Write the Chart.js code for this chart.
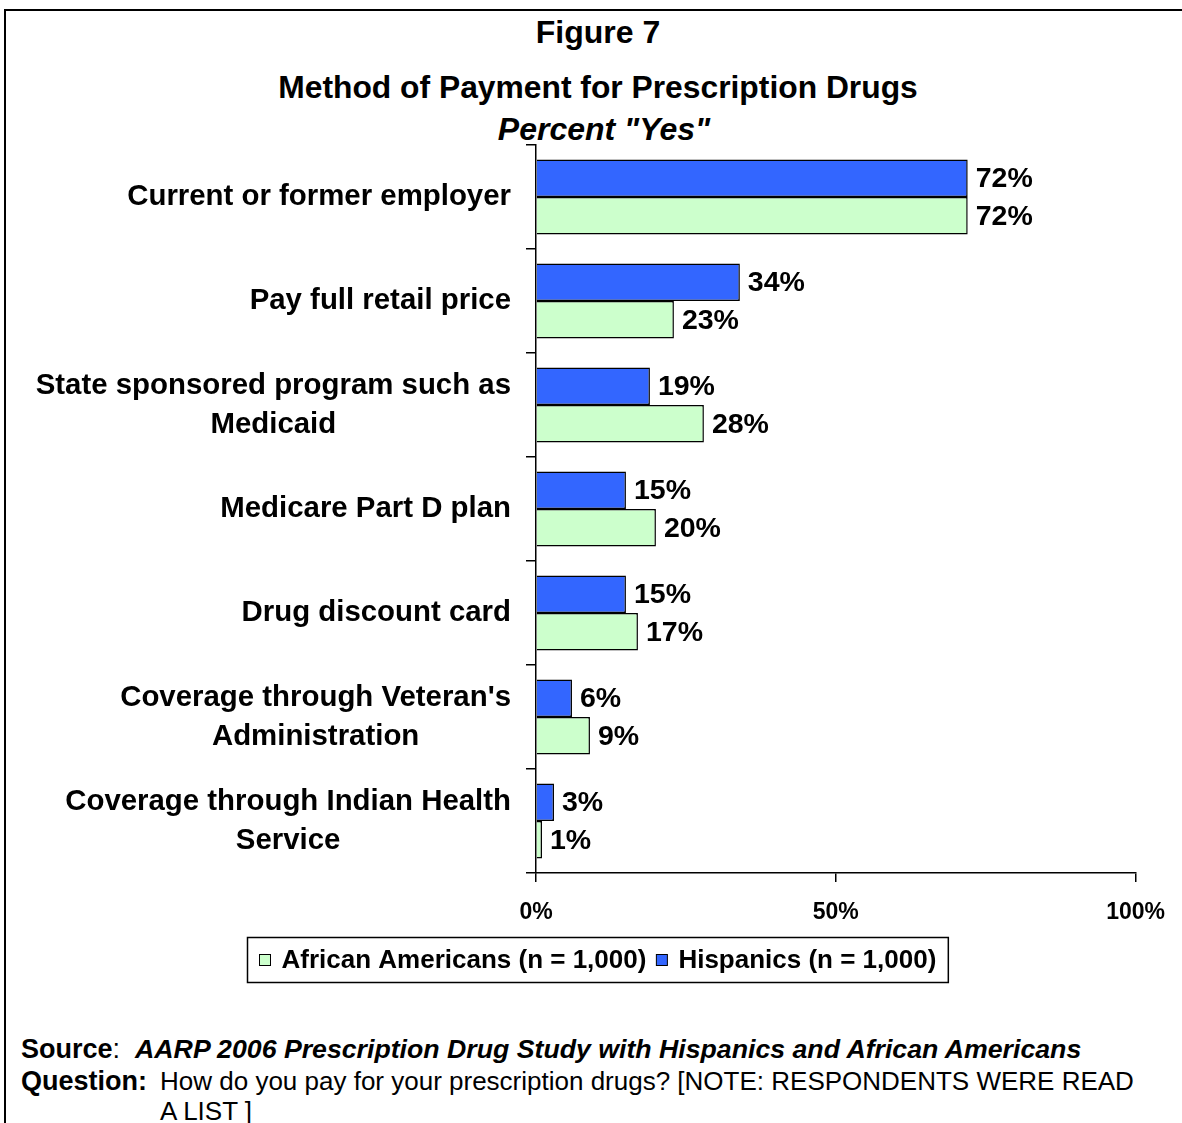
<!DOCTYPE html>
<html>
<head>
<meta charset="utf-8">
<script src="https://cdn.jsdelivr.net/npm/chart.js@4.4.1/dist/chart.umd.min.js"></script>
<style>
  html, body { margin: 0; padding: 0; background: #fff; }
  body { width: 1182px; height: 1123px; position: relative; overflow: hidden; font-family: "Liberation Sans", Arial, sans-serif; color: #000; }
  .marco { position: absolute; left: 4px; top: 9px; width: 1300px; height: 1300px; border-left: 2px solid #000; border-top: 2px solid #000; }
  .tit { position: absolute; left: 0; width: 1196px; text-align: center; font-weight: bold; white-space: nowrap; font-size: 32px; }
  #lienzo { position: absolute; left: 0; top: 0; }
  .nota { position: absolute; white-space: nowrap; line-height: 30px; }
</style>
</head>
<body>
<div class="marco"></div>
<div class="tit" style="top:14px;">Figure 7</div>
<div class="tit" style="top:69px;font-size:31.8px;">Method of Payment for Prescription Drugs</div>
<div class="tit" style="top:111px;font-style:italic;left:6px;">Percent "Yes"</div>
<canvas id="lienzo" width="1182" height="1000"></canvas>
<div class="nota" style="left:21px;top:1034px;font-size:27px;"><b>Source</b>:&nbsp; <b><i style="font-size:26.7px;">AARP 2006 Prescription Drug Study with Hispanics and African Americans</i></b></div>
<div class="nota" style="left:21px;top:1066px;font-size:27px;"><b>Question:</b></div>
<div class="nota" style="left:160px;top:1066px;font-size:26px;">How do you pay for your prescription drugs? [NOTE: RESPONDENTS WERE READ<br>A LIST ]</div>

<script>
const categorias = [
  ['Current or former employer'],
  ['Pay full retail price'],
  ['State sponsored program such as', 'Medicaid'],
  ['Medicare Part D plan'],
  ['Drug discount card'],
  ["Coverage through Veteran's", 'Administration'],
  ['Coverage through Indian Health', 'Service']
];
const hispanos = [72, 34, 19, 15, 15, 6, 3];
const afroamericanos = [72, 23, 28, 20, 17, 9, 1];
const etiquetasSerie = ['Hispanics (n = 1,000)', 'African Americans (n = 1,000)'];
const coloresSerie = ['#3366FF', '#CCFFCC'];
const ticksX = [0, 50, 100];

const FUENTE = '"Liberation Sans", Arial, sans-serif';

// etiquetas de categoría: una línea alineada a la derecha, varias centradas entre sí
const etiquetasCategoria = {
  id: 'etiquetasCategoria',
  afterDraw(chart) {
    const { ctx } = chart;
    const y = chart.scales.y;
    const borde = 511;
    ctx.save();
    ctx.font = 'bold 29.4px ' + FUENTE;
    ctx.fillStyle = '#000';
    ctx.textBaseline = 'middle';
    ctx.textAlign = 'center';
    categorias.forEach((lineas, i) => {
      const cy = y.getPixelForValue(i);
      const anchoMax = Math.max(...lineas.map(l => ctx.measureText(l).width));
      const cx = borde - anchoMax / 2;
      const alto = 39;
      const y0 = cy - (lineas.length - 1) * alto / 2;
      lineas.forEach((l, k) => ctx.fillText(l, cx, y0 + k * alto));
    });
    ctx.restore();
  }
};

// valores al final de cada barra
const valoresBarras = {
  id: 'valoresBarras',
  afterDatasetsDraw(chart) {
    const { ctx } = chart;
    ctx.save();
    ctx.font = 'bold 28.5px ' + FUENTE;
    ctx.fillStyle = '#000';
    ctx.textAlign = 'left';
    ctx.textBaseline = 'middle';
    chart.data.datasets.forEach((ds, di) => {
      chart.getDatasetMeta(di).data.forEach((bar, i) => {
        ctx.fillText(ds.data[i] + '%', bar.x + 8, bar.y + 1);
      });
    });
    ctx.restore();
  }
};

// leyenda con recuadro, en orden inverso al de las series
const leyenda = {
  id: 'leyenda',
  afterDraw(chart) {
    const { ctx } = chart;
    const items = chart.data.datasets.map(ds => ({ texto: ds.label, color: ds.backgroundColor })).reverse();
    ctx.save();
    ctx.font = 'bold 26px ' + FUENTE;
    const caja = 11, sep = 11, pad = 12, hueco = 10;
    const anchos = items.map(it => caja + sep + ctx.measureText(it.texto).width);
    const total = anchos.reduce((s, a) => s + a, 0) + hueco * (items.length - 1) + pad * 2;
    const x0 = Math.round(597.5 - total / 2) + 0.5;
    const y0 = 937.5, alto = 45;
    ctx.strokeStyle = '#000';
    ctx.lineWidth = 1.5;
    ctx.strokeRect(x0, y0, total, alto);
    let x = x0 + pad;
    const cy = y0 + alto / 2;
    items.forEach((it, i) => {
      ctx.fillStyle = it.color;
      ctx.fillRect(x, cy - 5.5, caja, caja);
      ctx.lineWidth = 1;
      ctx.strokeRect(x, cy - 5.5, caja, caja);
      ctx.fillStyle = '#000';
      ctx.textBaseline = 'middle';
      ctx.textAlign = 'left';
      ctx.fillText(it.texto, x + caja + sep, cy + 1);
      x += anchos[i] + hueco;
    });
    ctx.restore();
  }
};

new Chart(document.getElementById('lienzo'), {
  type: 'bar',
  data: {
    labels: categorias,
    datasets: [
      { label: etiquetasSerie[0], data: hispanos, backgroundColor: coloresSerie[0], borderColor: '#000', borderWidth: 1.5, categoryPercentage: 0.72, barPercentage: 1 },
      { label: etiquetasSerie[1], data: afroamericanos, backgroundColor: coloresSerie[1], borderColor: '#000', borderWidth: 1.5, categoryPercentage: 0.72, barPercentage: 1 }
    ]
  },
  options: {
    indexAxis: 'y',
    responsive: false,
    animation: false,
    layout: { padding: { left: 526, top: 145, right: 46, bottom: 77 } },
    scales: {
      x: {
        min: 0, max: 100,
        afterBuildTicks: s => { s.ticks = ticksX.map(v => ({ value: v })); },
        afterFit: s => { s.height = 50; },
        grid: { drawOnChartArea: false, drawTicks: true, tickLength: 9, color: '#000', lineWidth: 1.5 },
        border: { display: true, color: '#000', width: 1.5 },
        ticks: { padding: 17, color: '#000', font: { family: FUENTE, size: 23, weight: 'bold' }, callback: v => v + '%', maxRotation: 0 }
      },
      y: {
        afterFit: s => { s.width = 10; },
        grid: { drawOnChartArea: false, drawTicks: true, tickLength: 10, color: '#000', lineWidth: 1.5, offset: true },
        border: { display: true, color: '#000', width: 1.5 },
        ticks: { display: false }
      }
    },
    plugins: {
      legend: { display: false },
      tooltip: { enabled: false }
    }
  },
  plugins: [etiquetasCategoria, valoresBarras, leyenda]
});
</script>
</body>
</html>
